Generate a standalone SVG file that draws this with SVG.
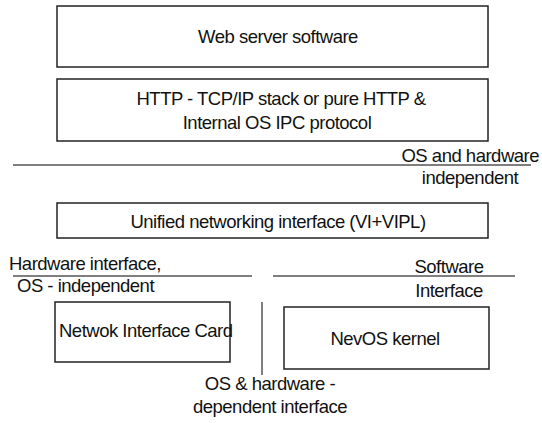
<svg xmlns="http://www.w3.org/2000/svg" width="542" height="423" viewBox="0 0 542 423">
  <style>
    .box { fill: #ffffff; stroke: #222222; stroke-width: 1.5; }
    .rule { stroke: #555555; stroke-width: 1.5; fill: none; }
    text { font-family: "Liberation Sans", Arial, sans-serif; font-size: 18.5px; fill: #111111; letter-spacing: -0.5px; }
    .mid { text-anchor: middle; }
  </style>
  <rect width="542" height="423" fill="#ffffff"/>

  <g id="web-server">
    <rect class="box" x="57" y="6" width="431" height="61"/>
    <text class="mid" x="278" y="43">Web server software</text>
  </g>

  <g id="http-stack">
    <rect class="box" x="57" y="79" width="431" height="62"/>
    <text class="mid" x="281" y="105">HTTP - TCP/IP stack or pure HTTP &amp;</text>
    <text class="mid" x="277" y="129">Internal OS IPC protocol</text>
  </g>

  <g id="unified-interface">
    <rect class="box" x="57" y="203" width="431" height="35"/>
    <text class="mid" x="278" y="228">Unified networking interface (VI+VIPL)</text>
  </g>

  <g id="nic">
    <rect class="box" x="55" y="302" width="175" height="60"/>
    <text x="59" y="337">Netwok Interface Card</text>
  </g>

  <g id="nevos-kernel">
    <rect class="box" x="284" y="307" width="205" height="62"/>
    <text class="mid" x="385" y="345">NevOS kernel</text>
  </g>

  <g id="connectors">
    <line class="rule" x1="13" y1="165" x2="531" y2="165"/>
    <line class="rule" x1="13" y1="276" x2="252" y2="276"/>
    <line class="rule" x1="273" y1="276" x2="515" y2="276"/>
    <line class="rule" x1="262" y1="302" x2="262" y2="375"/>
  </g>

  <g id="labels">
    <text x="539" y="162" text-anchor="end">OS and hardware</text>
    <text class="mid" x="470" y="184">independent</text>
    <text x="9" y="270">Hardware interface,</text>
    <text x="17" y="292">OS - independent</text>
    <text class="mid" x="449" y="273">Software</text>
    <text class="mid" x="449" y="297">Interface</text>
    <text class="mid" x="270" y="390">OS &amp; hardware -</text>
    <text class="mid" x="270" y="413">dependent interface</text>
  </g>
</svg>
